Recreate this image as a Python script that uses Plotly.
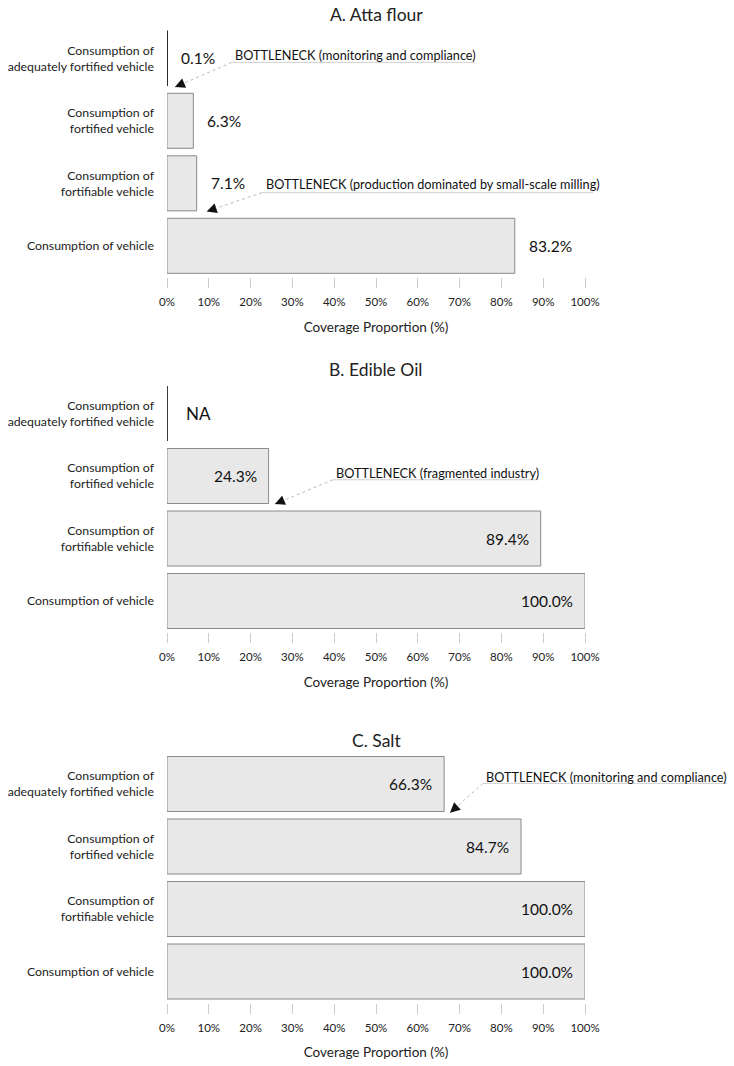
import plotly.graph_objects as go

# ---------------- data ----------------
categories = [
    "Consumption of<br>adequately fortified vehicle",
    "Consumption of<br>fortified vehicle",
    "Consumption of<br>fortifiable vehicle",
    "Consumption of vehicle",
]
panel_titles = ["A. Atta flour", "B. Edible Oil", "C. Salt"]
atta_values = [0.1, 6.3, 7.1, 83.2]
oil_values = [None, 24.3, 89.4, 100.0]   # None = NA
salt_values = [66.3, 84.7, 100.0, 100.0]
panel_values = [atta_values, oil_values, salt_values]
label_modes = ["outside", "inside", "inside"]

x_tick_values = [0, 10, 20, 30, 40, 50, 60, 70, 80, 90, 100]
x_tick_labels = [f"{v}%" for v in x_tick_values]
axis_title = "Coverage Proportion (%)"

bottleneck_texts = [
    ["BOTTLENECK (monitoring and compliance)",
     "BOTTLENECK (production dominated by small-scale milling)"],
    ["BOTTLENECK (fragmented industry)"],
    ["BOTTLENECK (monitoring and compliance)"],
]
# callout geometry (x in %, y in category-index units)
bottleneck_geom = [
    [dict(tx=15.9, ty=-0.05, lx0=15.5, lx1=73.7, ly=0.065, hx=1.9, hy=0.46),
     dict(tx=23.2, ty=2.01, lx0=22.7, lx1=102.0, ly=2.15, hx=9.5, hy=2.45)],
    [dict(tx=40.0, ty=0.95, lx0=39.7, lx1=88.8, ly=1.06, hx=25.8, hy=1.45)],
    [dict(tx=75.8, ty=-0.12, lx0=75.6, lx1=134.0, ly=-0.01, hx=67.7, hy=0.46)],
]

# ---------------- layout geometry ----------------
W, H = 734, 1066
FONT = "Lato, 'Open Sans', sans-serif"
x_dom = [167 / W, 585 / W]
panel_tops = [27.05, 382.25, 752.75]
y_doms = [[1 - (t + 250) / H, 1 - t / H] for t in panel_tops]
BAR_W = 0.88
PX_X = (585 - 167) / 100.0
PX_Y = 62.5

fig = go.Figure()
layout = dict(
    width=W, height=H,
    margin=dict(l=0, r=0, t=0, b=0),
    paper_bgcolor="white", plot_bgcolor="white",
    showlegend=False,
    font=dict(family=FONT, color="#222"),
)
annotations = []
shapes = []

def xd(v):
    return v / 100.0

def yd(p):
    return (3.5 - p) / 4.0

for i, vals in enumerate(panel_values):
    n = "" if i == 0 else str(i + 1)
    xa, ya = "x" + n, "y" + n
    idx = list(range(len(categories)))
    plot_vals = [v if v is not None else 0 for v in vals]
    line_cols = ["#222" if (v is None or v < 1) else "#8a8a8a" for v in vals]
    fig.add_trace(go.Bar(
        x=plot_vals, y=idx, orientation="h", width=BAR_W,
        marker=dict(color="#e8e8e8", line=dict(color=line_cols, width=1)),
        xaxis=xa, yaxis=ya, hoverinfo="skip",
    ))
    layout["xaxis" + n] = dict(
        domain=x_dom, anchor=ya, range=[0, 100], fixedrange=True,
        tickvals=x_tick_values, ticktext=x_tick_labels,
        ticks="outside", ticklen=10, tickcolor="#cccccc", tickwidth=1,
        showline=False, showgrid=False, zeroline=False,
        tickfont=dict(size=11.5, color="#222"), ticklabelstandoff=4,
        title=dict(text=axis_title, font=dict(size=13.5, color="#222"), standoff=15),
        automargin=False,
    )
    layout["yaxis" + n] = dict(
        domain=y_doms[i], anchor=xa, range=[3.5, -0.5], fixedrange=True,
        tickvals=idx, ticktext=categories,
        ticks="", showline=False, showgrid=False, zeroline=False,
        tickfont=dict(size=12.3, color="#222"), ticklabelstandoff=12,
        automargin=False,
    )
    # panel title
    annotations.append(dict(
        text=panel_titles[i], xref=xa + " domain", yref=ya + " domain",
        x=0.5, y=1, xanchor="center", yanchor="bottom", yshift=0,
        showarrow=False, font=dict(size=17.5, color="#222"),
    ))
    # NA markers and value labels
    for j, v in enumerate(vals):
        if v is None:
            shapes.append(dict(type="line", xref=xa, yref=ya, x0=0, x1=0,
                               y0=j - BAR_W / 2, y1=j + BAR_W / 2,
                               line=dict(color="#222", width=1)))
            annotations.append(dict(text="NA", xref=xa, yref=ya, x=0, y=j,
                                    xanchor="left", yanchor="middle", xshift=17,
                                    showarrow=False, font=dict(size=17, color="#111")))
            continue
        if label_modes[i] == "outside":
            annotations.append(dict(text=f"{v:.1f}%", xref=xa, yref=ya, x=v, y=j,
                                    xanchor="left", yanchor="middle", xshift=12,
                                    showarrow=False, font=dict(size=15.5, color="#111")))
        else:
            annotations.append(dict(text=f"{v:.1f}%", xref=xa, yref=ya, x=v, y=j,
                                    xanchor="right", yanchor="middle", xshift=-10,
                                    showarrow=False, font=dict(size=15.5, color="#111")))
    # bottleneck callouts
    for txt, g in zip(bottleneck_texts[i], bottleneck_geom[i]):
        annotations.append(dict(text=txt, xref=xa, yref=ya, x=g["tx"], y=g["ty"],
                                xanchor="left", yanchor="middle", showarrow=False,
                                font=dict(size=12.7, color="#111")))
        shapes.append(dict(type="line", xref=xa + " domain", yref=ya + " domain",
                           x0=xd(g["lx0"]), x1=xd(g["lx1"]), y0=yd(g["ly"]), y1=yd(g["ly"]),
                           line=dict(color="#cfcfcf", width=1)))
        shapes.append(dict(type="line", xref=xa + " domain", yref=ya + " domain",
                           x0=xd(g["lx0"]), x1=xd(g["hx"]), y0=yd(g["ly"]), y1=yd(g["hy"]),
                           line=dict(color="#bbbbbb", width=1, dash="dot")))
        dxp = (g["lx0"] - g["hx"]) * PX_X
        dyp = (g["ly"] - g["hy"]) * PX_Y
        norm = (dxp ** 2 + dyp ** 2) ** 0.5
        annotations.append(dict(text="", xref=xa, yref=ya, x=g["hx"], y=g["hy"],
                                showarrow=True, arrowhead=2, arrowsize=2, arrowwidth=1,
                                arrowcolor="#111", standoff=0,
                                ax=dxp / norm * 6, ay=dyp / norm * 6))

layout["annotations"] = annotations
layout["shapes"] = shapes
fig.update_layout(**layout)
fig.write_html(
    "out.html",
    config={"displayModeBar": False, "staticPlot": True},
    post_script="document.documentElement.style.margin='0';document.body.style.margin='0';"
                "document.body.style.overflow='hidden';",
)
